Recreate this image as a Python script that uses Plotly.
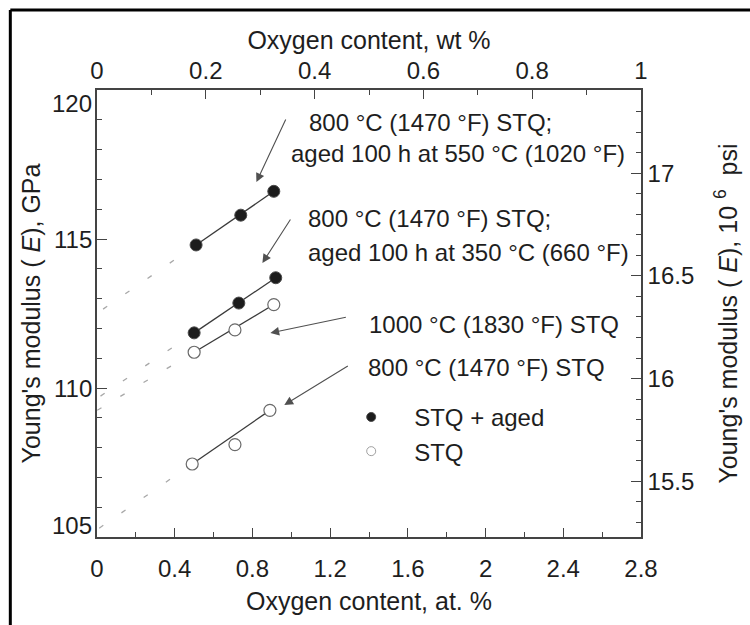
import numpy as np
import plotly.graph_objects as go

# Oxygen content (at. %) and Young's modulus (GPa) for each heat treatment
aged550_x = [0.51, 0.74, 0.91]
aged550_y = [114.8, 115.8, 116.6]
aged350_x = [0.50, 0.73, 0.92]
aged350_y = [111.85, 112.85, 113.7]
stq1000_x = [0.50, 0.71, 0.91]
stq1000_y = [111.2, 111.95, 112.8]
stq800_x = [0.49, 0.71, 0.89]
stq800_y = [107.45, 108.1, 109.25]

# axis ranges and ticks
at_range = [0, 2.8]
wt_range = [0, 1.0]
gpa_range = [105, 120]
gpa_ticks = [105, 110, 115, 120]
psi_ticks = [15.5, 16, 16.5, 17]
GPA_TO_MPSI = 0.145038

FONT = "Liberation Sans, Arial, sans-serif"
FS = 24
FT = 25
INK = "#1e1e1e"
AXIS = "#444444"

W, H = 750, 625
ML, MR, MT, MB = 97, 107, 90, 88
PW, PH = W - ML - MR, H - MT - MB

fig = go.Figure()

series = [
    (aged550_x, aged550_y, True),
    (aged350_x, aged350_y, True),
    (stq1000_x, stq1000_y, False),
    (stq800_x, stq800_y, False),
]

# trend lines: solid across the measured span, dashed back to zero oxygen
for xs, ys, filled in series:
    slope = (ys[-1] - ys[0]) / (xs[-1] - xs[0])
    y0 = ys[0] - slope * xs[0]
    fig.add_trace(go.Scatter(
        x=[xs[0], 0], y=[ys[0], y0], mode="lines",
        line=dict(color="#a8a8a8", width=1.3, dash="5px,22px"),
        showlegend=False, hoverinfo="skip"))
    fig.add_trace(go.Scatter(
        x=[xs[0], xs[-1]], y=[ys[0], ys[-1]], mode="lines",
        line=dict(color="#3a3a3a", width=1.3),
        showlegend=False, hoverinfo="skip"))

for xs, ys, filled in series:
    if filled:
        mk = dict(size=12, color="#1c1c1c", line=dict(color="#4a4a4a", width=1))
    else:
        mk = dict(size=12, color="white", line=dict(color="#6a6a6a", width=1.2))
    fig.add_trace(go.Scatter(x=xs, y=ys, mode="markers", marker=mk,
                             showlegend=False))

# legend entries (placed on the secondary axes so those axes get drawn)
fig.add_trace(go.Scatter(
    x=[None], y=[None], xaxis="x2", yaxis="y2", mode="markers", name="STQ + aged",
    marker=dict(size=9, color="#1c1c1c", line=dict(color="#4a4a4a", width=1))))
fig.add_trace(go.Scatter(
    x=[None], y=[None], xaxis="x2", yaxis="y2", mode="markers", name="STQ",
    marker=dict(size=9, color="white", line=dict(color="#a0a0a0", width=1))))


def px_to_data(px, py):
    x = at_range[0] + (px - ML) / PW * (at_range[1] - at_range[0])
    y = gpa_range[1] - (py - MT) / PH * (gpa_range[1] - gpa_range[0])
    return x, y


annotations = []

# condition labels
labels = [
    ("800 °C (1470 °F) STQ;", 308, 122),
    ("aged 100 h at 550 °C (1020 °F)", 290, 153),
    ("800 °C (1470 °F) STQ;", 307, 218),
    ("aged 100 h at 350 °C (660 °F)", 307, 252),
    ("1000 °C (1830 °F) STQ", 368, 324),
    ("800 °C (1470 °F) STQ", 367, 367),
]
for text, px, py in labels:
    x, y = px_to_data(px, py)
    annotations.append(dict(x=x, y=y, xref="x", yref="y", text=text,
                            showarrow=False, xanchor="left", yanchor="middle",
                            font=dict(family=FONT, size=FS, color=INK)))

# pointer arrows: tip position, tail offset in pixels
arrows = [
    (257, 182, 30, -64),
    (263, 263, 29, -45),
    (271, 333, 77, -16),
    (285, 405, 65, -40),
]
for px, py, ax, ay in arrows:
    x, y = px_to_data(px, py)
    annotations.append(dict(x=x, y=y, xref="x", yref="y", text="",
                            showarrow=True, ax=ax, ay=ay, arrowhead=2,
                            arrowsize=1.6, arrowwidth=1.1, arrowcolor="#505050",
                            standoff=0))

# left tick labels (end labels pulled inside the frame)
for v in gpa_ticks:
    shift = 0
    if v == gpa_range[1]:
        shift = -13
    elif v == gpa_range[0]:
        shift = 12
    annotations.append(dict(x=0, y=v, xref="paper", yref="y", text=str(v),
                            showarrow=False, xanchor="right", yanchor="middle",
                            xshift=-3, yshift=shift,
                            font=dict(family=FONT, size=FS, color=INK)))

tickfont = dict(family=FONT, size=FS, color=INK)
titlefont = dict(family=FONT, size=FT, color=INK)

fig.update_layout(
    width=W, height=H,
    margin=dict(l=ML, r=MR, t=MT, b=MB),
    paper_bgcolor="white", plot_bgcolor="white",
    font=dict(family=FONT, size=FS, color=INK),
    showlegend=True,
    legend=dict(x=0.425, y=0.318, xanchor="left", yanchor="top",
                bgcolor="rgba(0,0,0,0)", itemwidth=76, tracegroupgap=0,
                font=dict(family=FONT, size=FS, color=INK)),
    xaxis=dict(range=at_range, dtick=0.4, tick0=0, ticks="inside", ticklen=9,
               tickwidth=1.2, tickcolor=AXIS, ticklabelstandoff=9,
               minor=dict(ticks="inside", dtick=0.2, ticklen=5, tickcolor=AXIS),
               showline=True, linecolor=AXIS, linewidth=1.5, showgrid=False,
               zeroline=False, tickfont=tickfont,
               title=dict(text="Oxygen content, at. %", font=titlefont, standoff=12)),
    xaxis2=dict(range=wt_range, dtick=0.2, tick0=0, ticks="inside", ticklen=9,
                tickwidth=1.2, tickcolor=AXIS, overlaying="x", side="top",
                anchor="y",
                minor=dict(ticks="inside", dtick=0.1, ticklen=5, tickcolor=AXIS),
                showline=True, linecolor=AXIS, linewidth=1.5, showgrid=False,
                zeroline=False, tickfont=tickfont,
                title=dict(text="Oxygen content, wt %", font=titlefont, standoff=0)),
    yaxis=dict(range=gpa_range, tickvals=gpa_ticks, ticks="inside", ticklen=10,
               tickwidth=1.2, tickcolor=AXIS, showticklabels=False,
               minor=dict(ticks="inside", dtick=1, ticklen=5, tickcolor=AXIS),
               showline=True, linecolor=AXIS, linewidth=1.5, showgrid=False,
               zeroline=False,
               title=dict(text="Young's modulus ( <i>E</i>), GPa", font=titlefont,
                          standoff=48)),
    yaxis2=dict(range=[gpa_range[0] * GPA_TO_MPSI, gpa_range[1] * GPA_TO_MPSI],
                tickvals=psi_ticks, ticktext=[f"{v:g}" for v in psi_ticks],
                ticks="inside", ticklen=10, tickwidth=1.2, tickcolor=AXIS,
                overlaying="y", side="right", anchor="x",
                minor=dict(ticks="inside", dtick=0.1, tick0=15, ticklen=5,
                           tickcolor=AXIS),
                showline=True, linecolor=AXIS, linewidth=1.5, showgrid=False,
                zeroline=False, tickfont=tickfont,
                title=dict(text="Young's modulus ( <i>E</i>), 10 <sup>6</sup>  psi",
                           font=titlefont, standoff=26)),
    annotations=annotations,
)

# outer frame lines along the top and left edges of the page
fx = (10 - ML) / PW
fy = 1 + (MT - 10) / PH
fig.add_shape(type="line", xref="paper", yref="paper", x0=fx, x1=(W - ML) / PW + 0.01,
              y0=fy, y1=fy, line=dict(color="black", width=3))
fig.add_shape(type="line", xref="paper", yref="paper", x0=fx, x1=fx,
              y0=fy, y1=-(MB + 5) / PH, line=dict(color="black", width=3))

fig.write_html("out.html")
